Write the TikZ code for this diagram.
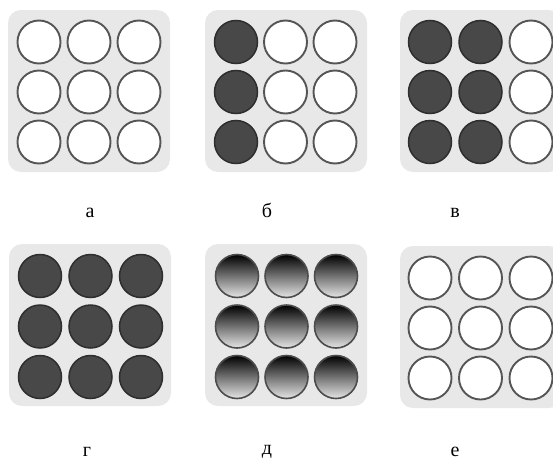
\documentclass[tikz,border=0pt]{standalone}
\usepackage{fontspec}
\setmainfont{Liberation Serif}
\definecolor{panelbg}{HTML}{E8E8E8}
\definecolor{ringcol}{HTML}{555555}
\definecolor{dotfill}{HTML}{484848}
\definecolor{dotring}{HTML}{2E2E2E}
\begin{document}
\begin{tikzpicture}[x=1pt,y=-1pt,
  panel/.style={rectangle,rounded corners=13pt,fill=panelbg,minimum size=162pt,inner sep=0pt},
  hole/.style={circle,minimum size=43pt,inner sep=0pt,fill=white,draw=ringcol,line width=1.9pt},
  dot/.style={circle,minimum size=43pt,inner sep=0pt,fill=dotfill,draw=dotring,line width=1.5pt},
  grad/.style={circle,minimum size=43pt,inner sep=0pt,top color=black,bottom color=white!90!black,draw=black!70,line width=1.6pt},
  lab/.style={font=\fontsize{20pt}{20pt}\selectfont,inner sep=0pt}]
\useasboundingbox (0,0) rectangle (553,463);
% panels
\node[panel] (pa) at (89,91) {};
\node[panel] (pb) at (286,91) {};
\node[panel] (pc) at (481,91) {};
\node[panel] (pd) at (90,325) {};
\node[panel] (pe) at (286,325) {};
\node[panel] (pf) at (481,327) {};
% panel a
\foreach \c in {0,1,2} \foreach \r in {0,1,2}
  \node[hole] (a-\c-\r) at (39+50*\c,42+50*\r) {};
% panel b
\foreach \c/\s in {0/dot,1/hole,2/hole} \foreach \r in {0,1,2}
  \node[\s] (b-\c-\r) at (236+49.5*\c,42+50*\r) {};
% panel c
\foreach \c/\s in {0/dot,1/dot,2/hole} \foreach \r in {0,1,2}
  \node[\s] (c-\c-\r) at (430+50.5*\c,42+50*\r) {};
% panel d
\foreach \c in {0,1,2} \foreach \r in {0,1,2}
  \node[dot] (d-\c-\r) at (40+50.5*\c,276+50.5*\r) {};
% panel e
\foreach \c in {0,1,2} \foreach \r in {0,1,2}
  \node[grad] (e-\c-\r) at (237+49.5*\c,276+50.5*\r) {};
% panel f
\foreach \c in {0,1,2} \foreach \r in {0,1,2}
  \node[hole] (f-\c-\r) at (430+50.5*\c,278+50*\r) {};
% labels
\node[lab] (la) at (90,213) {а};
\node[lab] (lb) at (267,210) {б};
\node[lab] (lc) at (455,213) {в};
\node[lab] (ld) at (87,452) {г};
\node[lab] (le) at (267,452) {д};
\node[lab] (lf) at (455,452) {е};
\end{tikzpicture}
\end{document}
